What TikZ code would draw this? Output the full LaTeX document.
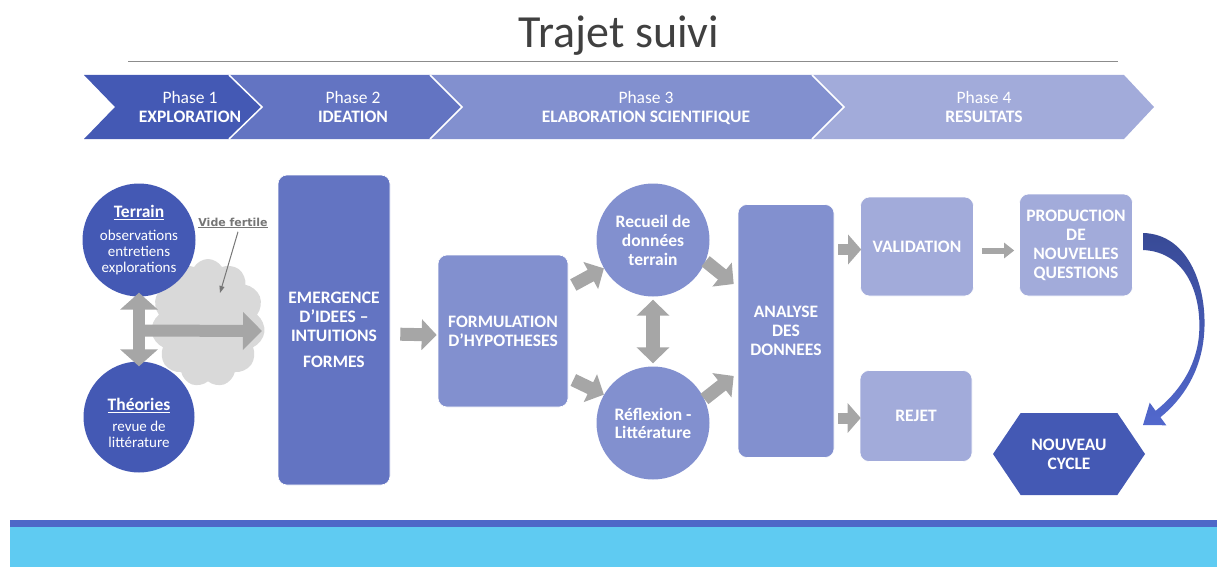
\documentclass[tikz,border=0pt]{standalone}
\usepackage{fontspec}
\setmainfont{Carlito}
\newfontfamily\dejavu{DejaVu Sans}
\usetikzlibrary{arrows.meta,shapes.symbols,shapes.geometric,calc}
\definecolor{cA}{RGB}{68,89,180}
\definecolor{cB}{RGB}{99,116,194}
\definecolor{cC}{RGB}{130,144,207}
\definecolor{cD}{RGB}{162,171,218}
\definecolor{garrow}{RGB}{166,166,166}
\definecolor{cloudc}{RGB}{217,217,217}
\definecolor{titlec}{RGB}{64,64,64}
\definecolor{rulec}{RGB}{140,140,140}
\definecolor{bardark}{RGB}{78,104,200}
\definecolor{barlight}{RGB}{95,203,242}
\definecolor{arrtop}{RGB}{56,74,150}
\definecolor{arrbot}{RGB}{82,104,205}
\definecolor{videc}{RGB}{118,118,118}
\tikzset{
  chev/.style={draw=white, line width=1.5pt},
  phasetxt/.style={text=white, align=center, font=\fontsize{17.5}{19}\selectfont},
  box/.style={rounded corners=9pt, draw=white, line width=0.6pt, text=white,
    font=\fontsize{17.5}{19}\selectfont\bfseries, align=center, inner sep=2pt},
  circ/.style={circle, draw=none, text=white, align=center, inner sep=0pt, minimum size=113pt},
  bigarrow/.style={draw=garrow, line width=13pt, -{Triangle[length=15pt,width=30pt]}},
  thinarrow/.style={draw=garrow, line width=6pt, -{Triangle[length=10pt,width=15pt]}},
  dblarrow/.style={draw=garrow, line width=12pt,
    {Triangle[length=17pt,width=37pt]}-{Triangle[length=17pt,width=37pt]}},
}
\begin{document}
\begin{tikzpicture}[x=1pt,y=-1pt]
\useasboundingbox (0,0) rectangle (1217,567);
% title
\node[font=\fontsize{46}{50}\selectfont, text=titlec, anchor=base] (title) at (619,48) {Trajet suivi};
\draw[rulec, line width=1pt] (128,62) -- (1118,62);
% chevrons
\fill[cA] (84,75) -- (229,75) -- (262,107) -- (229,139) -- (84,139) -- (115,107) -- cycle;
\fill[cB] (229,75) -- (430,75) -- (462,107) -- (430,139) -- (229,139) -- (262,107) -- cycle;
\fill[cC] (430,75) -- (812,75) -- (844,107) -- (812,139) -- (430,139) -- (462,107) -- cycle;
\fill[cD] (812,75) -- (1124,75) -- (1154,107) -- (1124,139) -- (812,139) -- (844,107) -- cycle;
\draw[chev] (229,75) -- (262,107) -- (229,139);
\draw[chev] (430,75) -- (462,107) -- (430,139);
\draw[chev] (812,75) -- (844,107) -- (812,139);
\node[phasetxt] (p1) at (190,108.5) {Phase 1\\\textbf{EXPLORATION}\vphantom{Q}};
\node[phasetxt] (p2) at (353,108.5) {Phase 2\\\textbf{IDEATION}\vphantom{Q}};
\node[phasetxt] (p3) at (646,108.5) {Phase 3\\\textbf{ELABORATION SCIENTIFIQUE}\vphantom{Q}};
\node[phasetxt] (p4) at (984,108.5) {Phase 4\\\textbf{RESULTATS}\vphantom{Q}};
% cloud
\node[cloud, cloud puffs=11, cloud puff arc=120, aspect=0.9, fill=cloudc, draw=none,
  minimum width=114pt, minimum height=128pt, inner sep=0pt] (cloud) at (208,323) {};
% circles exploration
\node[circ, fill=cA, font=\fontsize{15}{16}\selectfont] (terrain) at (139,240)
  {{\fontsize{17.5}{16}\selectfont\bfseries\underline{Terrain}}\\[7pt]observations\\entretiens\\explorations};
\node[circ, fill=cA, minimum size=111pt] (theories) at (139,417) {};
\node[text=white, align=center, font=\fontsize{15}{16}\selectfont] (theoriesT) at ([yshift=-6pt]theories.center)
  {{\fontsize{17.5}{16}\selectfont\bfseries\underline{Théories}}\\[5pt]revue de\\littérature};
% vide fertile
\node[font=\dejavu\bfseries\fontsize{11}{12}\selectfont, text=videc] (vide) at (233,223) {\underline{Vide fertile}};
\coordinate (vtarget) at (220,293);
\draw[videc, line width=1pt, -{Triangle[length=7pt,width=5pt]}] ([xshift=5pt]vide.south) -- (vtarget);
% arrows exploration
\coordinate (hstart) at ($(terrain.south)!0.5!(theories.north)$);
\coordinate (hend) at (262,331);
\draw[draw=garrow, line width=12pt, -{Triangle[length=19pt,width=37pt]}] ([yshift=-1.5pt]hstart) -- (hend);
\draw[dblarrow, shorten <=-4pt, shorten >=-5pt] (terrain.south) -- (theories.north);
% boxes
\node[box, fill=cB, minimum width=112pt, minimum height=310pt] (emer) at (334,330)
  {EMERGENCE\\D’IDEES –\\INTUITIONS\\[7pt]FORMES};
\node[box, fill=cC, minimum width=130pt, minimum height=152pt] (form) at (503,331)
  {FORMULATION\\D’HYPOTHESES};
\node[circ, fill=cC, font=\fontsize{17.5}{19}\selectfont\bfseries] (recueil) at (653,240)
  {Recueil de\\données\\terrain};
\node[circ, fill=cC, font=\fontsize{17.5}{18}\selectfont\bfseries] (reflexion) at (653,423)
  {Réflexion -\\Littérature};
\node[box, fill=cC, minimum width=96pt, minimum height=253pt] (analyse) at (786,331)
  {ANALYSE\\DES\\DONNEES};
\node[box, fill=cD, minimum width=113pt, minimum height=99pt] (valid) at (917,246.5) {VALIDATION};
\node[box, fill=cD, minimum width=112pt, minimum height=91pt] (rejet) at (916,416) {REJET};
\node[box, fill=cD, minimum width=113pt, minimum height=102pt] (prod) at (1076,245)
  {PRODUCTION\\DE\\NOUVELLES\\QUESTIONS};
\node[signal, signal to=west and east, signal pointer angle=112, fill=cA, text=white,
  font=\fontsize{17.5}{19}\selectfont\bfseries, align=center,
  minimum width=152pt, minimum height=82pt, inner sep=0pt] (cycle) at (1069,454) {NOUVEAU\\CYCLE};
% gray connectors
\draw[bigarrow, shorten <=10pt, shorten >=1pt] ([yshift=-4pt]emer.east) -- ([yshift=-4pt]form.west);
\draw[bigarrow] ([shift={(5,-46)}]form.east) -- (recueil.210);
\draw[bigarrow] ([shift={(5,49)}]form.east) -- (reflexion.150);
\draw[bigarrow] (recueil.-22) -- ([shift={(-4,-47)}]analyse.west);
\draw[bigarrow] (reflexion.25) -- ([shift={(-4,45)}]analyse.west);
\draw[dblarrow, line width=14pt, {Triangle[length=16pt,width=32pt]}-{Triangle[length=16pt,width=32pt]},
  shorten <=3pt, shorten >=3pt] (recueil.south) -- (reflexion.north);
\draw[bigarrow, line width=11pt, -{Triangle[length=13pt,width=29pt]}, shorten <=4pt, shorten >=-1pt]
  ([yshift=-3pt]analyse.east |- valid.west) -- ([yshift=-3pt]valid.west);
\draw[bigarrow, line width=11pt, -{Triangle[length=13pt,width=29pt]}, shorten <=4pt, shorten >=-1pt]
  ([yshift=-2pt]analyse.east |- rejet.west) -- ([yshift=-2pt]rejet.west);
\draw[thinarrow, shorten <=8pt, shorten >=5pt] ([yshift=-4pt]valid.east) -- ([yshift=-4pt]prod.west |- valid.east);
% curved arrow
\shade[top color=arrtop, bottom color=arrbot]
  (1143,233) .. controls (1190,234) and (1208,290) .. (1204,335)
  .. controls (1201,372) and (1182,400) .. (1160.4,417.2)
  -- (1166.3,425.3) -- (1143,425) -- (1149.7,402.7) -- (1155.6,410.8)
  .. controls (1178,393) and (1196,368) .. (1199,335)
  .. controls (1202,296) and (1187,252) .. (1143,250) -- cycle;
% bottom bars
\fill[barlight] (10,526) rectangle (1217,567);
\fill[bardark] (10,520) rectangle (1217,526.5);
\end{tikzpicture}
\end{document}
